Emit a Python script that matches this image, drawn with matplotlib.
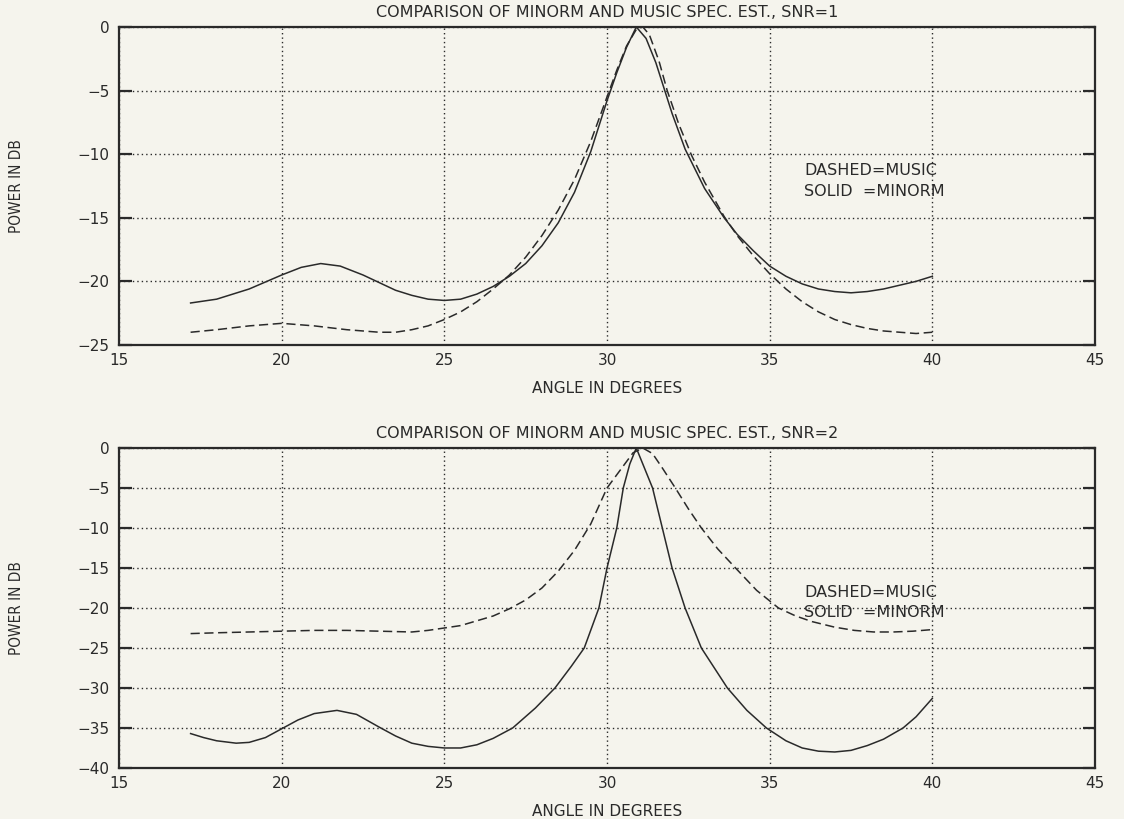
import matplotlib
matplotlib.use("Agg")
import matplotlib.pyplot as plt

# top panel, SNR = 1
angle_minorm1 = [17.2, 18, 19, 20, 20.6, 21.2, 21.8, 22.5, 23, 23.5, 24, 24.5, 25, 25.5, 26, 26.5,
                 27, 27.5, 28, 28.5, 29, 29.5, 30, 30.3, 30.6, 30.9, 31.2, 31.5, 31.7, 32, 32.4,
                 33, 33.6, 34, 34.5, 35, 35.5, 36, 36.5, 37, 37.5, 38, 38.5, 39, 39.5, 40]
db_minorm1 = [-21.7, -21.4, -20.6, -19.5, -18.9, -18.6, -18.8, -19.5, -20.1, -20.7, -21.1, -21.4,
              -21.5, -21.4, -21.0, -20.4, -19.6, -18.6, -17.2, -15.4, -13.0, -9.8, -5.8, -3.6,
              -1.6, 0.0, -0.9, -2.8, -4.4, -6.8, -9.6, -12.7, -15.0, -16.3, -17.6, -18.8, -19.6,
              -20.2, -20.6, -20.8, -20.9, -20.8, -20.6, -20.3, -20.0, -19.6]

angle_music1 = [17.2, 18, 19, 20, 21, 22, 23, 23.5, 24, 24.5, 25, 25.5, 26, 26.5, 27, 27.5, 28,
                28.5, 29, 29.5, 30, 30.3, 30.6, 30.9, 31.1, 31.3, 31.6, 31.85, 32.2, 32.6, 33,
                33.6, 34, 34.5, 35, 35.5, 36, 36.5, 37, 37.5, 38, 38.5, 39, 39.5, 40]
db_music1 = [-24.0, -23.8, -23.5, -23.3, -23.5, -23.8, -24.0, -24.0, -23.8, -23.5, -23.0, -22.4,
             -21.6, -20.6, -19.5, -18.1, -16.4, -14.4, -12.0, -9.0, -5.5, -3.4, -1.5, -0.2, 0.0,
             -0.6, -2.7, -5.0, -7.6, -10.1, -12.2, -14.9, -16.4, -18.0, -19.4, -20.6, -21.6,
             -22.4, -23.0, -23.4, -23.7, -23.9, -24.0, -24.1, -24.0]

# bottom panel, SNR = 2
angle_minorm2 = [17.2, 17.6, 18, 18.6, 19, 19.5, 20, 20.5, 21, 21.7, 22.3, 23, 23.5, 24, 24.5, 25,
                 25.5, 26, 26.5, 27.1, 27.8, 28.4, 28.9, 29.3, 29.75, 30.0, 30.3, 30.5, 30.7, 30.9,
                 31.1, 31.4, 31.7, 32.0, 32.4, 32.9, 33.7, 34.3, 34.9, 35.5, 36, 36.5, 37, 37.5,
                 38, 38.5, 39.1, 39.5, 40]
db_minorm2 = [-35.7, -36.2, -36.6, -36.9, -36.8, -36.2, -35.1, -34.0, -33.2, -32.8, -33.3, -34.9,
              -36.0, -36.9, -37.3, -37.5, -37.5, -37.1, -36.3, -35.0, -32.5, -30.0, -27.3, -25.0,
              -20.0, -15.0, -10.0, -5.0, -2.0, 0.0, -2.0, -5.0, -10.0, -15.0, -20.0, -25.0,
              -30.0, -32.8, -35.0, -36.6, -37.5, -37.9, -38.0, -37.8, -37.2, -36.4, -35.0,
              -33.6, -31.3]

angle_music2 = [17.2, 18, 19, 20, 21, 22, 23, 24, 24.5, 25, 25.5, 26, 26.5, 27, 27.5, 28, 28.5,
                29, 29.5, 30, 30.4, 30.8, 31.1, 31.4, 31.7, 32.1, 32.5, 32.9, 33.4, 33.95, 34.6,
                35.27, 35.8, 36.3, 37, 37.6, 38.2, 38.8, 39.4, 40]
db_music2 = [-23.2, -23.1, -23.0, -22.9, -22.8, -22.8, -22.9, -23.0, -22.8, -22.5, -22.2, -21.6,
             -21.0, -20.1, -19.0, -17.5, -15.4, -12.8, -9.5, -5.0, -2.8, -0.6, 0.0, -0.7, -2.5,
             -5.0, -7.6, -10.0, -12.6, -15.0, -17.8, -20.0, -21.0, -21.7, -22.4, -22.8, -23.0,
             -23.0, -22.9, -22.7]

x_ticks = [15, 20, 25, 30, 35, 40, 45]
y_ticks1 = [0, -5, -10, -15, -20, -25]
y_ticks2 = [0, -5, -10, -15, -20, -25, -30, -35, -40]
titles = ["COMPARISON OF MINORM AND MUSIC SPEC. EST., SNR=1",
          "COMPARISON OF MINORM AND MUSIC SPEC. EST., SNR=2"]
legend_lines = ["DASHED=MUSIC", "SOLID  =MINORM"]

bg = "#f5f4ed"
ink = "#2a2a2a"

fig = plt.figure(figsize=(11.24, 8.19), dpi=100, facecolor=bg)
ax1 = fig.add_axes([0.1059, 0.5788, 0.8683, 0.3883])
ax2 = fig.add_axes([0.1059, 0.0623, 0.8683, 0.3907])


def style_axes(ax, yticks, title):
    ax.set_facecolor(bg)
    ax.set_xlim(15, 45)
    ax.set_ylim(yticks[-1], 0)
    ax.set_xticks(x_ticks)
    ax.set_yticks(yticks)
    ax.grid(True, color=ink, linestyle=(0, (1, 2.2)), linewidth=1.0)
    for s in ax.spines.values():
        s.set_color(ink)
        s.set_linewidth(1.6)
    ax.tick_params(axis="y", direction="in", length=9, width=1.6, colors=ink,
                   left=True, right=True, labelsize=11, pad=7)
    ax.tick_params(axis="x", length=0, colors=ink, labelsize=11, pad=6)
    ax.set_title(title, fontsize=11.5, color=ink, pad=7)
    ax.set_xlabel("ANGLE IN DEGREES", fontsize=11, color=ink, labelpad=9)
    ax.set_ylabel("POWER IN DB", fontsize=11, color=ink, fontstretch="condensed",
                  family=["Liberation Sans Narrow", "DejaVu Sans"])
    ax.yaxis.set_label_coords(-0.097, 0.5)


style_axes(ax1, y_ticks1, titles[0])
style_axes(ax2, y_ticks2, titles[1])

ax1.plot(angle_minorm1, db_minorm1, color=ink, linewidth=1.1)
ax1.plot(angle_music1, db_music1, color=ink, linewidth=1.1, linestyle=(0, (6, 3)))
ax2.plot(angle_minorm2, db_minorm2, color=ink, linewidth=1.1)
ax2.plot(angle_music2, db_music2, color=ink, linewidth=1.1, linestyle=(0, (6, 3)))

ax1.text(36.07, -11.3, legend_lines[0], fontsize=11.5, color=ink, va="center")
ax1.text(36.07, -12.9, legend_lines[1], fontsize=11.5, color=ink, va="center")
ax2.text(36.07, -18.1, legend_lines[0], fontsize=11.5, color=ink, va="center")
ax2.text(36.07, -20.6, legend_lines[1], fontsize=11.5, color=ink, va="center")

fig.savefig("out.png", dpi=100, facecolor=bg)
